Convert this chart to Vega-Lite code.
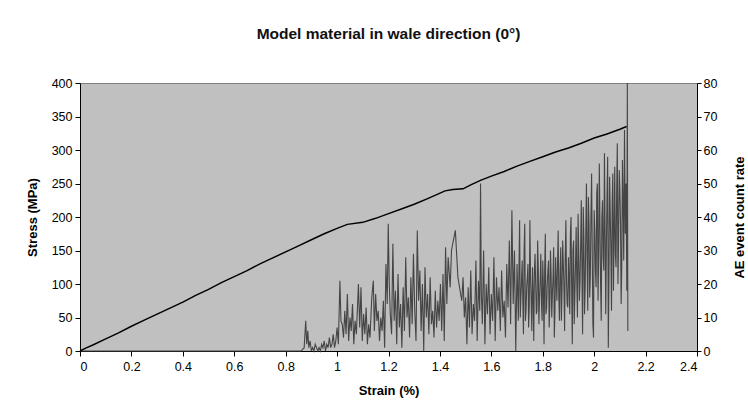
{
  "$schema": "https://vega.github.io/schema/vega-lite/v6.json",
  "width": 617,
  "height": 268,
  "autosize": {"type": "none"},
  "padding": {"left": 80, "top": 83, "right": 51, "bottom": 66},
  "background": "white",
  "config": {
    "view": {"fill": "#c0c0c0", "stroke": "#808080"},
    "font": "Liberation Sans",
    "axis": {
      "grid": false,
      "domainColor": "black",
      "tickColor": "black",
      "labelColor": "black",
      "titleColor": "black",
      "labelFont": "Liberation Sans",
      "titleFont": "Liberation Sans",
      "labelFontSize": 12.5,
      "titleFontSize": 13,
      "titleFontWeight": "bold"
    }
  },
  "title": {
    "text": "Model material in wale direction (0°)",
    "font": "Liberation Sans",
    "fontSize": 15.5,
    "fontWeight": "bold",
    "color": "#111111",
    "offset": 35
  },
  "datasets": {
    "stress": [
      {"strain": 0, "stress": 0}, {"strain": 0.02, "stress": 4}, {"strain": 0.05, "stress": 9},
      {"strain": 0.1, "stress": 18}, {"strain": 0.15, "stress": 27}, {"strain": 0.2, "stress": 37},
      {"strain": 0.25, "stress": 46}, {"strain": 0.3, "stress": 55}, {"strain": 0.35, "stress": 64},
      {"strain": 0.4, "stress": 73}, {"strain": 0.45, "stress": 83}, {"strain": 0.5, "stress": 92},
      {"strain": 0.55, "stress": 102}, {"strain": 0.6, "stress": 111}, {"strain": 0.65, "stress": 120},
      {"strain": 0.7, "stress": 130}, {"strain": 0.75, "stress": 139}, {"strain": 0.8, "stress": 148},
      {"strain": 0.85, "stress": 157}, {"strain": 0.9, "stress": 166}, {"strain": 0.95, "stress": 175},
      {"strain": 1.0, "stress": 183}, {"strain": 1.04, "stress": 189}, {"strain": 1.1, "stress": 192},
      {"strain": 1.15, "stress": 198}, {"strain": 1.2, "stress": 205}, {"strain": 1.25, "stress": 212},
      {"strain": 1.3, "stress": 219}, {"strain": 1.35, "stress": 227}, {"strain": 1.42, "stress": 239},
      {"strain": 1.45, "stress": 241}, {"strain": 1.49, "stress": 242}, {"strain": 1.52, "stress": 248},
      {"strain": 1.56, "stress": 255}, {"strain": 1.6, "stress": 261}, {"strain": 1.65, "stress": 268},
      {"strain": 1.7, "stress": 276}, {"strain": 1.75, "stress": 283}, {"strain": 1.8, "stress": 290},
      {"strain": 1.85, "stress": 297}, {"strain": 1.9, "stress": 303}, {"strain": 1.95, "stress": 310},
      {"strain": 2.0, "stress": 318}, {"strain": 2.05, "stress": 324}, {"strain": 2.1, "stress": 331},
      {"strain": 2.126, "stress": 335}
    ],
    "ae": [
      {"strain": 0, "rate": 0}, {"strain": 0.86, "rate": 0},
      {"strain": 0.872, "rate": 1}, {"strain": 0.878, "rate": 9}, {"strain": 0.882, "rate": 2}, {"strain": 0.886, "rate": 6},
      {"strain": 0.89, "rate": 1}, {"strain": 0.895, "rate": 3}, {"strain": 0.9, "rate": 0}, {"strain": 0.905, "rate": 1},
      {"strain": 0.91, "rate": 0}, {"strain": 0.915, "rate": 2}, {"strain": 0.92, "rate": 1}, {"strain": 0.925, "rate": 0},
      {"strain": 0.93, "rate": 1}, {"strain": 0.935, "rate": 0}, {"strain": 0.94, "rate": 2}, {"strain": 0.945, "rate": 1},
      {"strain": 0.95, "rate": 3}, {"strain": 0.955, "rate": 0}, {"strain": 0.96, "rate": 2}, {"strain": 0.965, "rate": 1},
      {"strain": 0.97, "rate": 4}, {"strain": 0.975, "rate": 1}, {"strain": 0.98, "rate": 2}, {"strain": 0.985, "rate": 5},
      {"strain": 0.99, "rate": 1}, {"strain": 0.995, "rate": 3}, {"strain": 1.0, "rate": 7}, {"strain": 1.005, "rate": 2},
      {"strain": 1.011, "rate": 21}, {"strain": 1.015, "rate": 9}, {"strain": 1.02, "rate": 8}, {"strain": 1.025, "rate": 4},
      {"strain": 1.03, "rate": 12}, {"strain": 1.035, "rate": 5}, {"strain": 1.04, "rate": 17}, {"strain": 1.045, "rate": 3},
      {"strain": 1.05, "rate": 10}, {"strain": 1.055, "rate": 6}, {"strain": 1.06, "rate": 14}, {"strain": 1.065, "rate": 2},
      {"strain": 1.07, "rate": 9}, {"strain": 1.075, "rate": 5}, {"strain": 1.083, "rate": 20}, {"strain": 1.088, "rate": 7},
      {"strain": 1.093, "rate": 19}, {"strain": 1.098, "rate": 3}, {"strain": 1.103, "rate": 11}, {"strain": 1.108, "rate": 5},
      {"strain": 1.113, "rate": 13}, {"strain": 1.118, "rate": 2}, {"strain": 1.123, "rate": 8}, {"strain": 1.128, "rate": 4},
      {"strain": 1.135, "rate": 16}, {"strain": 1.141, "rate": 21}, {"strain": 1.145, "rate": 6}, {"strain": 1.15, "rate": 17},
      {"strain": 1.155, "rate": 9}, {"strain": 1.16, "rate": 12}, {"strain": 1.165, "rate": 3}, {"strain": 1.17, "rate": 10},
      {"strain": 1.175, "rate": 6}, {"strain": 1.18, "rate": 15}, {"strain": 1.185, "rate": 1}, {"strain": 1.19, "rate": 26},
      {"strain": 1.195, "rate": 14}, {"strain": 1.199, "rate": 38}, {"strain": 1.203, "rate": 20}, {"strain": 1.207, "rate": 11},
      {"strain": 1.212, "rate": 5}, {"strain": 1.217, "rate": 32}, {"strain": 1.222, "rate": 9}, {"strain": 1.227, "rate": 18},
      {"strain": 1.232, "rate": 2}, {"strain": 1.237, "rate": 23}, {"strain": 1.242, "rate": 7}, {"strain": 1.247, "rate": 14},
      {"strain": 1.252, "rate": 1}, {"strain": 1.257, "rate": 19}, {"strain": 1.262, "rate": 6}, {"strain": 1.267, "rate": 28},
      {"strain": 1.272, "rate": 10}, {"strain": 1.277, "rate": 16}, {"strain": 1.282, "rate": 4}, {"strain": 1.287, "rate": 22},
      {"strain": 1.292, "rate": 8}, {"strain": 1.297, "rate": 29}, {"strain": 1.302, "rate": 12}, {"strain": 1.307, "rate": 3},
      {"strain": 1.312, "rate": 36}, {"strain": 1.317, "rate": 15}, {"strain": 1.322, "rate": 24}, {"strain": 1.327, "rate": 6},
      {"strain": 1.332, "rate": 20}, {"strain": 1.337, "rate": 0}, {"strain": 1.342, "rate": 25}, {"strain": 1.347, "rate": 10},
      {"strain": 1.352, "rate": 17}, {"strain": 1.357, "rate": 5}, {"strain": 1.362, "rate": 22}, {"strain": 1.367, "rate": 8},
      {"strain": 1.372, "rate": 12}, {"strain": 1.377, "rate": 4}, {"strain": 1.382, "rate": 18}, {"strain": 1.387, "rate": 7},
      {"strain": 1.392, "rate": 15}, {"strain": 1.397, "rate": 9}, {"strain": 1.402, "rate": 20}, {"strain": 1.407, "rate": 6},
      {"strain": 1.412, "rate": 23}, {"strain": 1.417, "rate": 3}, {"strain": 1.422, "rate": 31}, {"strain": 1.427, "rate": 14},
      {"strain": 1.432, "rate": 28}, {"strain": 1.44, "rate": 19}, {"strain": 1.445, "rate": 30}, {"strain": 1.46, "rate": 36},
      {"strain": 1.47, "rate": 22}, {"strain": 1.485, "rate": 15}, {"strain": 1.49, "rate": 22}, {"strain": 1.495, "rate": 10},
      {"strain": 1.5, "rate": 16}, {"strain": 1.505, "rate": 2}, {"strain": 1.51, "rate": 19}, {"strain": 1.515, "rate": 7},
      {"strain": 1.52, "rate": 24}, {"strain": 1.525, "rate": 5}, {"strain": 1.53, "rate": 14}, {"strain": 1.535, "rate": 9},
      {"strain": 1.54, "rate": 27}, {"strain": 1.545, "rate": 3}, {"strain": 1.55, "rate": 21}, {"strain": 1.555, "rate": 12},
      {"strain": 1.558, "rate": 50}, {"strain": 1.561, "rate": 18}, {"strain": 1.565, "rate": 8}, {"strain": 1.57, "rate": 30},
      {"strain": 1.575, "rate": 2}, {"strain": 1.58, "rate": 20}, {"strain": 1.585, "rate": 11}, {"strain": 1.59, "rate": 25},
      {"strain": 1.595, "rate": 5}, {"strain": 1.6, "rate": 17}, {"strain": 1.605, "rate": 9}, {"strain": 1.61, "rate": 28},
      {"strain": 1.615, "rate": 3}, {"strain": 1.62, "rate": 22}, {"strain": 1.625, "rate": 12}, {"strain": 1.63, "rate": 19},
      {"strain": 1.635, "rate": 6}, {"strain": 1.64, "rate": 24}, {"strain": 1.645, "rate": 10}, {"strain": 1.65, "rate": 15},
      {"strain": 1.655, "rate": 4}, {"strain": 1.66, "rate": 26}, {"strain": 1.665, "rate": 13}, {"strain": 1.67, "rate": 33},
      {"strain": 1.675, "rate": 8}, {"strain": 1.68, "rate": 42}, {"strain": 1.685, "rate": 14}, {"strain": 1.69, "rate": 30},
      {"strain": 1.695, "rate": 0}, {"strain": 1.7, "rate": 26}, {"strain": 1.7025, "rate": 18}, {"strain": 1.705, "rate": 9},
      {"strain": 1.7075, "rate": 24}, {"strain": 1.71, "rate": 39}, {"strain": 1.7125, "rate": 10}, {"strain": 1.715, "rate": 16},
      {"strain": 1.7175, "rate": 21}, {"strain": 1.72, "rate": 27}, {"strain": 1.7225, "rate": 15}, {"strain": 1.725, "rate": 5},
      {"strain": 1.7275, "rate": 30}, {"strain": 1.73, "rate": 38}, {"strain": 1.7325, "rate": 9}, {"strain": 1.735, "rate": 12},
      {"strain": 1.7375, "rate": 19}, {"strain": 1.74, "rate": 22}, {"strain": 1.7425, "rate": 26}, {"strain": 1.745, "rate": 7},
      {"strain": 1.7475, "rate": 13}, {"strain": 1.75, "rate": 39}, {"strain": 1.7525, "rate": 22}, {"strain": 1.755, "rate": 15},
      {"strain": 1.7575, "rate": 6}, {"strain": 1.76, "rate": 25}, {"strain": 1.7625, "rate": 17}, {"strain": 1.765, "rate": 3},
      {"strain": 1.7675, "rate": 24}, {"strain": 1.77, "rate": 29}, {"strain": 1.7725, "rate": 20}, {"strain": 1.775, "rate": 11},
      {"strain": 1.7775, "rate": 12}, {"strain": 1.78, "rate": 33}, {"strain": 1.7825, "rate": 25}, {"strain": 1.785, "rate": 8},
      {"strain": 1.7875, "rate": 16}, {"strain": 1.79, "rate": 21}, {"strain": 1.7925, "rate": 29}, {"strain": 1.795, "rate": 14},
      {"strain": 1.7975, "rate": 9}, {"strain": 1.8, "rate": 27}, {"strain": 1.8025, "rate": 19}, {"strain": 1.805, "rate": 2},
      {"strain": 1.8075, "rate": 24}, {"strain": 1.81, "rate": 35}, {"strain": 1.8125, "rate": 11}, {"strain": 1.815, "rate": 13},
      {"strain": 1.8175, "rate": 20}, {"strain": 1.82, "rate": 24}, {"strain": 1.8225, "rate": 27}, {"strain": 1.825, "rate": 7},
      {"strain": 1.8275, "rate": 14}, {"strain": 1.83, "rate": 30}, {"strain": 1.8325, "rate": 23}, {"strain": 1.835, "rate": 10},
      {"strain": 1.8375, "rate": 17}, {"strain": 1.84, "rate": 22}, {"strain": 1.8425, "rate": 31}, {"strain": 1.845, "rate": 4},
      {"strain": 1.8475, "rate": 12}, {"strain": 1.85, "rate": 28}, {"strain": 1.8525, "rate": 21}, {"strain": 1.855, "rate": 15},
      {"strain": 1.8575, "rate": 26}, {"strain": 1.86, "rate": 36}, {"strain": 1.8625, "rate": 16}, {"strain": 1.865, "rate": 9},
      {"strain": 1.8675, "rate": 24}, {"strain": 1.87, "rate": 31}, {"strain": 1.8725, "rate": 9}, {"strain": 1.875, "rate": 18},
      {"strain": 1.8775, "rate": 33}, {"strain": 1.88, "rate": 26}, {"strain": 1.8825, "rate": 19}, {"strain": 1.885, "rate": 6},
      {"strain": 1.8875, "rate": 28}, {"strain": 1.89, "rate": 39}, {"strain": 1.8925, "rate": 21}, {"strain": 1.895, "rate": 14},
      {"strain": 1.8975, "rate": 13}, {"strain": 1.9, "rate": 28}, {"strain": 1.9025, "rate": 22}, {"strain": 1.905, "rate": 11},
      {"strain": 1.9075, "rate": 35}, {"strain": 1.91, "rate": 40}, {"strain": 1.9125, "rate": 18}, {"strain": 1.915, "rate": 2},
      {"strain": 1.9175, "rate": 30}, {"strain": 1.92, "rate": 33}, {"strain": 1.9225, "rate": 8}, {"strain": 1.925, "rate": 17},
      {"strain": 1.9275, "rate": 26}, {"strain": 1.93, "rate": 37}, {"strain": 1.9325, "rate": 20}, {"strain": 1.935, "rate": 10},
      {"strain": 1.9375, "rate": 41}, {"strain": 1.94, "rate": 29}, {"strain": 1.9425, "rate": 15}, {"strain": 1.945, "rate": 21},
      {"strain": 1.9475, "rate": 32}, {"strain": 1.95, "rate": 45}, {"strain": 1.9525, "rate": 24}, {"strain": 1.955, "rate": 5},
      {"strain": 1.9575, "rate": 43}, {"strain": 1.96, "rate": 34}, {"strain": 1.9625, "rate": 11}, {"strain": 1.965, "rate": 19},
      {"strain": 1.9675, "rate": 36}, {"strain": 1.97, "rate": 50}, {"strain": 1.9725, "rate": 27}, {"strain": 1.975, "rate": 12},
      {"strain": 1.9775, "rate": 46}, {"strain": 1.98, "rate": 38}, {"strain": 1.9825, "rate": 16}, {"strain": 1.985, "rate": 22},
      {"strain": 1.9875, "rate": 40}, {"strain": 1.99, "rate": 53}, {"strain": 1.9925, "rate": 30}, {"strain": 1.995, "rate": 8},
      {"strain": 1.9975, "rate": 4}, {"strain": 2.0, "rate": 42}, {"strain": 2.0025, "rate": 36}, {"strain": 2.005, "rate": 24},
      {"strain": 2.0075, "rate": 19}, {"strain": 2.01, "rate": 47}, {"strain": 2.0125, "rate": 50}, {"strain": 2.015, "rate": 15},
      {"strain": 2.0175, "rate": 28}, {"strain": 2.02, "rate": 56}, {"strain": 2.0225, "rate": 38}, {"strain": 2.025, "rate": 20},
      {"strain": 2.0275, "rate": 9}, {"strain": 2.03, "rate": 40}, {"strain": 2.0325, "rate": 45}, {"strain": 2.035, "rate": 28},
      {"strain": 2.0375, "rate": 24}, {"strain": 2.04, "rate": 59}, {"strain": 2.0425, "rate": 36}, {"strain": 2.045, "rate": 11},
      {"strain": 2.0475, "rate": 31}, {"strain": 2.05, "rate": 46}, {"strain": 2.0525, "rate": 58}, {"strain": 2.055, "rate": 1},
      {"strain": 2.0575, "rate": 22}, {"strain": 2.06, "rate": 52}, {"strain": 2.0625, "rate": 41}, {"strain": 2.065, "rate": 30},
      {"strain": 2.0675, "rate": 12}, {"strain": 2.07, "rate": 44}, {"strain": 2.0725, "rate": 53}, {"strain": 2.075, "rate": 18},
      {"strain": 2.0775, "rate": 35}, {"strain": 2.08, "rate": 55}, {"strain": 2.0825, "rate": 29}, {"strain": 2.085, "rate": 25},
      {"strain": 2.0875, "rate": 47}, {"strain": 2.09, "rate": 62}, {"strain": 2.0925, "rate": 20}, {"strain": 2.095, "rate": 33},
      {"strain": 2.0975, "rate": 54}, {"strain": 2.1, "rate": 48}, {"strain": 2.1025, "rate": 38}, {"strain": 2.105, "rate": 14},
      {"strain": 2.1075, "rate": 26}, {"strain": 2.11, "rate": 57}, {"strain": 2.1125, "rate": 45}, {"strain": 2.115, "rate": 27},
      {"strain": 2.118, "rate": 66}, {"strain": 2.121, "rate": 35}, {"strain": 2.124, "rate": 50}, {"strain": 2.127, "rate": 18},
      {"strain": 2.129, "rate": 80}, {"strain": 2.131, "rate": 6}
    ]
  },
  "layer": [
    {
      "data": {"name": "ae"},
      "mark": {"type": "line", "color": "#454545", "strokeWidth": 1.1},
      "encoding": {
        "x": {
          "field": "strain", "type": "quantitative",
          "scale": {"domain": [0, 2.4], "nice": false},
          "axis": {
            "title": "Strain (%)",
            "values": [0, 0.2, 0.4, 0.6, 0.8, 1, 1.2, 1.4, 1.6, 1.8, 2, 2.2, 2.4],
            "format": "~g",
            "tickSize": 5, "labelPadding": 4, "titlePadding": 12
          }
        },
        "y": {
          "field": "rate", "type": "quantitative",
          "scale": {"domain": [0, 80], "nice": false},
          "axis": {
            "orient": "right",
            "title": "AE event count rate",
            "values": [0, 10, 20, 30, 40, 50, 60, 70, 80],
            "tickSize": 4, "labelPadding": 2,
            "titleAngle": 270, "titleBaseline": "top", "titlePadding": 17
          }
        }
      }
    },
    {
      "data": {"name": "stress"},
      "mark": {"type": "line", "color": "black", "strokeWidth": 1.5},
      "encoding": {
        "x": {"field": "strain", "type": "quantitative", "scale": {"domain": [0, 2.4], "nice": false}},
        "y": {
          "field": "stress", "type": "quantitative",
          "scale": {"domain": [0, 400], "nice": false},
          "axis": {
            "orient": "left",
            "title": "Stress (MPa)",
            "values": [0, 50, 100, 150, 200, 250, 300, 350, 400],
            "tickSize": 5, "labelPadding": 3, "titlePadding": 12
          }
        }
      }
    }
  ],
  "resolve": {"scale": {"y": "independent"}}
}
